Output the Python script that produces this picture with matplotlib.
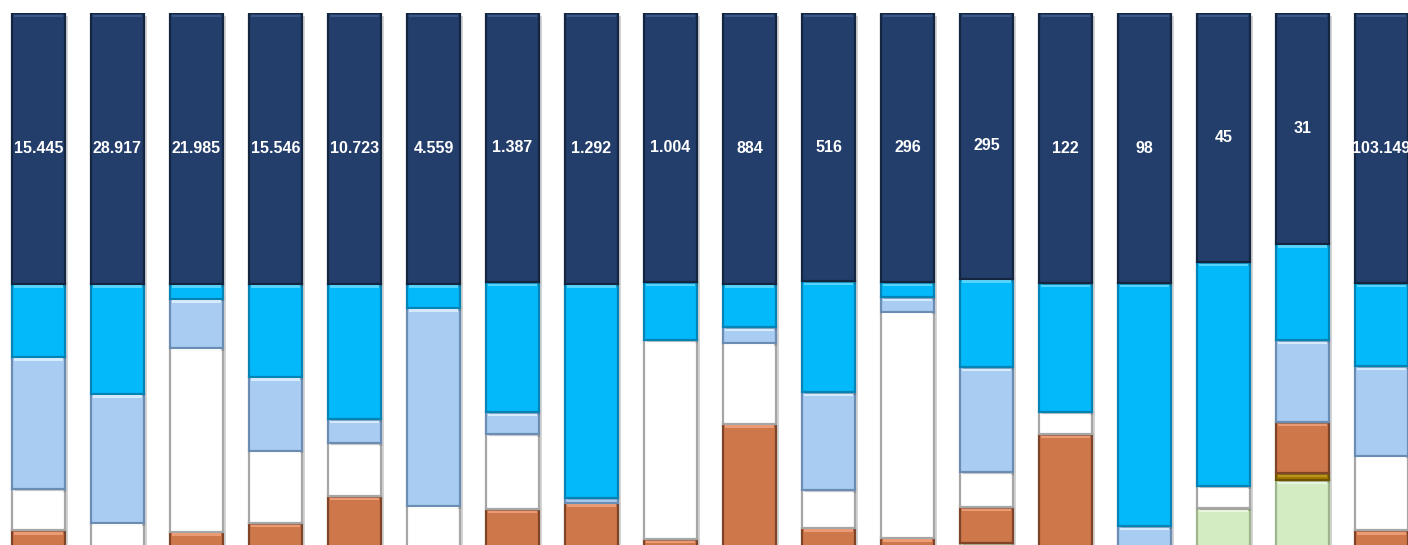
import matplotlib
matplotlib.use("Agg")
import matplotlib.pyplot as plt
import matplotlib.patheffects as pe
import numpy as np

labels = ["15.445", "28.917", "21.985", "15.546", "10.723", "4.559", "1.387", "1.292",
          "1.004", "884", "516", "296", "295", "122", "98", "45", "31", "103.149"]

# shares in % of each bar (bottom -> top)
green = [0, 0, 0, 0, 0, 0, 0, 0, 0, 0, 0, 0, 3.1, 0, 0, 9.5, 14.6, 0]
olive = [0, 0, 0, 0, 0, 0, 0, 0, 0, 0, 0, 0, 0, 0, 0, 0, 1.3, 0]
orange = [5.4, 0, 5.2, 6.7, 11.7, 0, 9.3, 10.5, 3.8, 24.9, 5.9, 4.1, 6.6, 23.0, 0, 0, 9.3, 5.4]
white = [7.5, 6.8, 33.6, 13.3, 9.7, 9.9, 13.7, 0, 36.4, 14.8, 6.9, 41.3, 6.4, 4.0, 0, 4.0, 0, 13.7]
lightblue = [24.3, 23.6, 9.0, 13.5, 4.4, 36.2, 4.0, 0.9, 0, 2.9, 17.9, 2.7, 19.2, 0, 6.2, 0, 15.0, 16.3]
cyan = [13.3, 20.1, 2.7, 17.0, 24.7, 4.4, 23.8, 39.1, 10.6, 7.9, 20.3, 2.7, 16.1, 23.6, 44.4, 41.0, 17.6, 15.2]
navy = [49.5, 49.5, 49.5, 49.5, 49.5, 49.5, 49.2, 49.5, 49.2, 49.5, 49.0, 49.2, 48.6, 49.4, 49.4, 45.5, 42.2, 49.4]

series = [
    (green, "#d4ecc1", "#9fb58e", "#eef8e6"),
    (olive, "#a07800", "#6e5200", "#c09a20"),
    (orange, "#cd774b", "#7f4427", "#f0a07a"),
    (white, "#ffffff", "#a6a6a6", "#ffffff"),
    (lightblue, "#a9cdf2", "#6b8db3", "#dcefff"),
    (cyan, "#03b9f9", "#0683b5", "#5fd8ff"),
    (navy, "#233e6b", "#142540", "#3d5a8a"),
]

fig = plt.figure(figsize=(14.08, 5.45), dpi=100)
ax = fig.add_axes([0, -15 / 545, 1, 547 / 545])
x = np.arange(len(labels))
w = 0.67
bottom = np.zeros(len(labels))
shadow = [pe.SimplePatchShadow(offset=(2, -2), alpha=0.25, shadow_rgbFace="#555555"), pe.Normal()]
for vals, face, edge, hi in series:
    v = np.array(vals, dtype=float)
    bars = ax.bar(x, v, w, bottom=bottom, color=face, edgecolor=edge, linewidth=1.6, zorder=2)
    for b, h in zip(bars, v):
        if h > 0:
            b.set_path_effects(shadow)
    # bevel highlight at top of each segment
    mask = v > 1.0
    ax.bar(x[mask], np.full(mask.sum(), 0.45), w * 0.92, bottom=(bottom + v)[mask] - 0.75,
           color=hi, linewidth=0, zorder=3, alpha=0.9)
    bottom += v

navy_bottom = bottom - np.array(navy)
for xi, lab, nb, nv in zip(x, labels, navy_bottom, navy):
    ax.text(xi, nb + nv / 2, lab, ha="center", va="center", color="white",
            fontsize=11.5, fontweight="bold", family=["Liberation Sans Narrow", "Liberation Sans"], zorder=5)

ax.set_xlim(-0.487, 17.335)
ax.set_ylim(0, 100)
ax.axis("off")
fig.savefig("out.png", dpi=100)
